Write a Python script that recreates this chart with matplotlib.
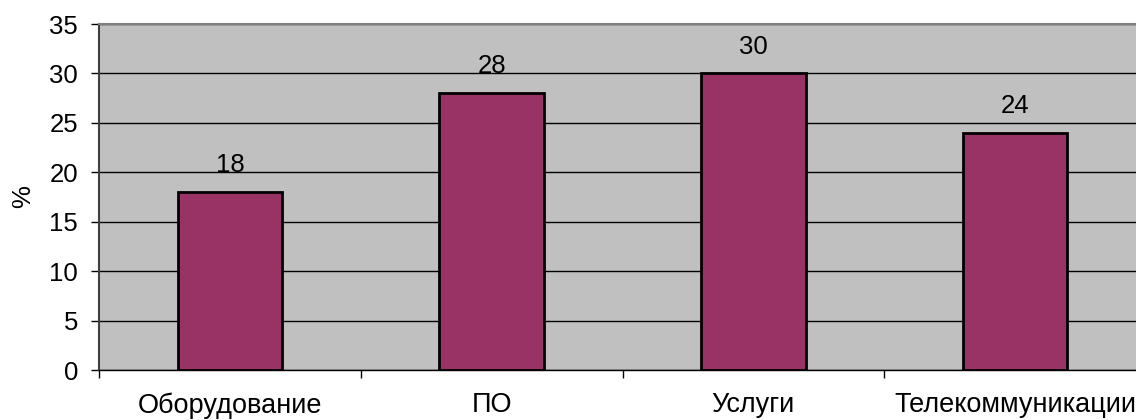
import matplotlib
matplotlib.use("Agg")
import matplotlib.pyplot as plt

categories = ["Оборудование", "ПО", "Услуги", "Телекоммуникации"]
values = [18, 28, 30, 24]
y_ticks = [0, 5, 10, 15, 20, 25, 30, 35]

plt.rcParams["font.family"] = ["Liberation Sans", "DejaVu Sans"]
FS = 18.5

fig = plt.figure(figsize=(11.36, 4.2), dpi=100)
ax = fig.add_axes([99 / 1136, 1 - 370 / 420, 1047 / 1136, 346 / 420])
ax.set_facecolor("#C0C0C0")

x = range(len(categories))
ax.bar(x, values, width=0.4, color="#993366", edgecolor="black",
       linewidth=2, zorder=3)
for xi, v in zip(x, values):
    ax.text(xi, v + 2.0, f"{v}", ha="center", va="baseline", fontsize=FS,
            zorder=4)

ax.set_xlim(-0.5, len(categories) - 0.5)
ax.set_ylim(0, 35)
ax.set_yticks(y_ticks)
ax.yaxis.grid(True, color="black", linewidth=1, zorder=1)
ax.set_axisbelow(True)

# category boundaries carry the tick marks, names sit between them
ax.set_xticks([i + 0.5 for i in range(-1, len(categories))])
ax.set_xticklabels([])
ax.set_xticks(list(x), minor=True)
ax.set_xticklabels(categories, minor=True)
ax.tick_params(axis="x", which="major", length=6, direction="out", width=1)
ax.tick_params(axis="x", which="minor", length=0, pad=16, labelsize=19.5)
ax.tick_params(axis="y", length=6, width=1, labelsize=FS, pad=9)

for side in ("top", "right"):
    ax.spines[side].set_color("#808080")
    ax.spines[side].set_linewidth(1.5)
ax.spines["left"].set_color("#404040")
ax.spines["left"].set_linewidth(1.5)
ax.spines["bottom"].set_color("black")
ax.spines["bottom"].set_linewidth(1)

ax.set_ylabel("%", fontsize=FS, labelpad=10)

fig.savefig("out.png", dpi=100)
